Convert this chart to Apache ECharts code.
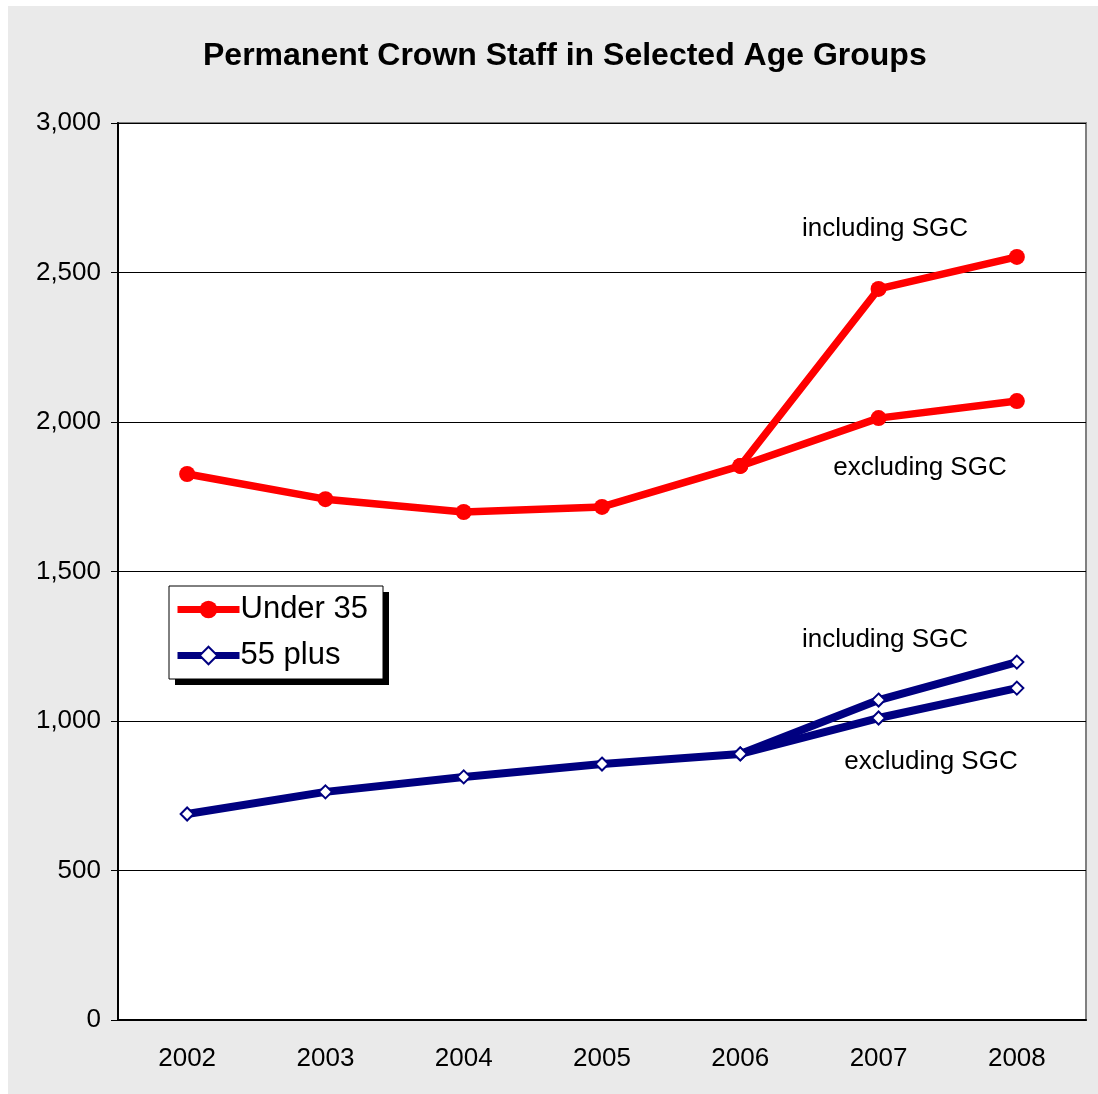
<!DOCTYPE html>
<html lang="en">
<head>
<meta charset="UTF-8">
<title>Permanent Crown Staff</title>
<style>
  body{margin:0;background:#fff;}
  #main{position:absolute;left:8px;top:6px;width:1090px;height:1088px;background:#eaeaea;}
</style>
<script src="https://cdn.jsdelivr.net/npm/echarts@6/dist/echarts.min.js"></script>
</head>
<body>
<div id="main"></div>
<script>
  let years=['2002','2003','2004','2005','2006','2007','2008'];
  // under 35, with SGC from 2007
  let under35Incl=[1826,1742,1699,1716,1853,2445,2552];
  let under35Excl=[null,null,null,null,1853,2013,2070];
  // 55 plus
  let plus55Incl=[689,763,813,856,890,1070,1197];
  let plus55Excl=[null,null,null,null,890,1010,1110];

  let font='Liberation Sans, Arial, sans-serif';
  let red='#ff0000', navy='#000080';

  let chart=echarts.init(document.getElementById('main'));

  function redLine(d){
    return {
      type:'line', name:'Under 35', data:d,
      symbol:'circle', symbolSize:16,
      lineStyle:{color:red,width:7.5},
      itemStyle:{color:red},
      connectNulls:false, z:3
    };
  }
  function blueLine(d){
    return {
      type:'line', name:'55 plus', data:d,
      symbol:'emptyDiamond', symbolSize:13,
      lineStyle:{color:navy,width:8},
      itemStyle:{color:navy,borderWidth:2},
      connectNulls:false, z:3
    };
  }

  function note(x,y,t){
    return {type:'text',x:x,y:y,z:10,
      style:{text:t,font:'26px '+font,fill:'#000',align:'center',verticalAlign:'middle'}};
  }

  let option={
    animation:false,
    title:{
      text:'Permanent Crown Staff in Selected Age Groups',
      left:190, top:29,
      textStyle:{fontFamily:font,fontSize:32,fontWeight:'bold',color:'#000'}
    },
    grid:{
      left:110, right:12, top:117, bottom:74,
      show:true, backgroundColor:'#fff', borderColor:'#808080', borderWidth:2
    },
    legend:{
      data:['Under 35','55 plus'],
      orient:'vertical', left:166, top:588,
      itemGap:15, z:10,
      itemWidth:62, itemHeight:22,
      padding:0,
      lineStyle:{width:7},
      textStyle:{fontFamily:font,fontSize:31,color:'#000',padding:[0,0,0,-4]}
    },
    xAxis:{
      type:'category', data:years, boundaryGap:true,
      axisLine:{lineStyle:{color:'#000',width:2}},
      axisTick:{inside:true,length:8,lineStyle:{color:'#000'}},
      axisLabel:{fontFamily:font,fontSize:26,color:'#000',margin:26}
    },
    yAxis:{
      type:'value', min:0, max:3000, interval:500,
      axisLine:{show:true,lineStyle:{color:'#000',width:2}},
      axisTick:{show:true,length:7,lineStyle:{color:'#000'}},
      splitLine:{lineStyle:{color:'#000',width:1}},
      axisLabel:{fontFamily:font,fontSize:26,color:'#000',margin:17,
        formatter:v=>v.toLocaleString('en-US')}
    },
    graphic:[
      // legend box and its shadow
      {type:'rect',x:167,y:586,z:4,
        shape:{width:214,height:93},
        style:{fill:'#000'}},
      {type:'rect',x:161,y:580,z:5,
        shape:{width:214,height:93},
        style:{fill:'#fff',stroke:'#000',lineWidth:1}},
      note(877,223,'including SGC'),
      note(912,462,'excluding SGC'),
      note(877,634,'including SGC'),
      note(923,756,'excluding SGC')
    ],
    series:[
      redLine(under35Incl),
      redLine(under35Excl),
      blueLine(plus55Incl),
      blueLine(plus55Excl)
    ]
  };
  chart.setOption(option);
</script>
</body>
</html>
